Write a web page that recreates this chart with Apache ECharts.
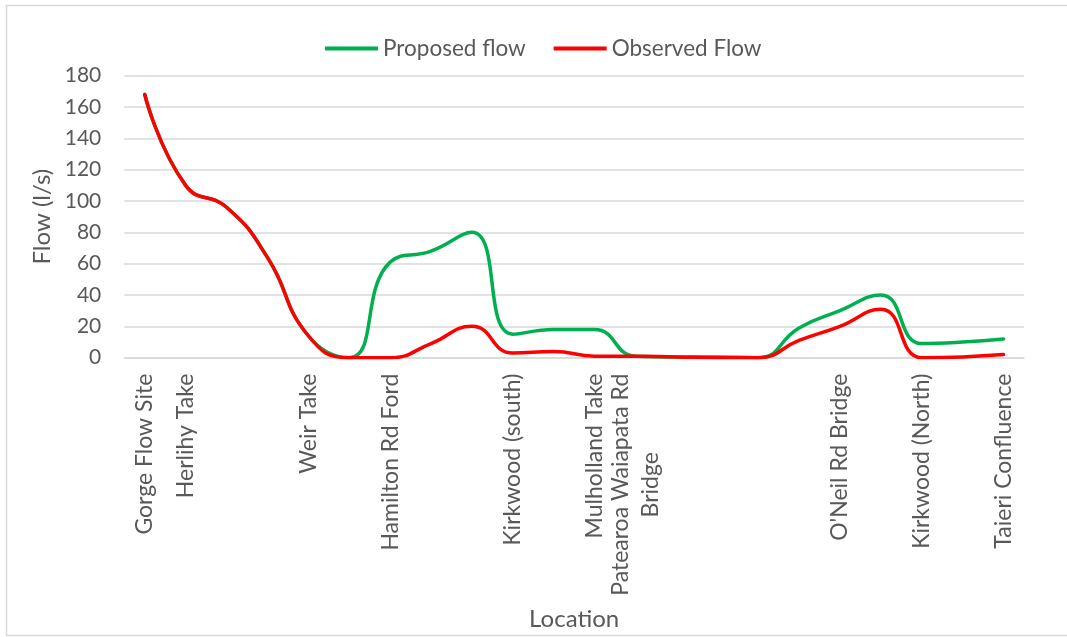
<!DOCTYPE html>
<html>
<head>
<meta charset="utf-8">
<script src="https://cdn.jsdelivr.net/npm/echarts@6/dist/echarts.min.js"></script>
<style>
  html, body { margin: 0; padding: 0; background: #fff; }
  #chart { width: 1067px; height: 637px; }
</style>
</head>
<body>
<div id="chart"></div>
<script>
// Sampling sites along the river, upstream to downstream ('' = unnamed point)
const locations = [
  'Gorge Flow Site', 'Herlihy Take', '', '', 'Weir Take', '', 'Hamilton Rd Ford',
  '', '', 'Kirkwood (south)', '', 'Mulholland Take', 'Patearoa Waiapata Rd\nBridge',
  '', '', '', '', "O'Neil Rd Bridge", '', 'Kirkwood (North)', '', 'Taieri Confluence'
];

// Flow in l/s at each site
const proposedFlow = [168, 110, 96, 64, 14, 0, 61, 68, 80, 15, 18, 18, 1, 0.5, 0.5, 0, 19, 30, 40, 9, 10, 12];
const observedFlow = [168, 110, 96, 64, 14, 0, 0, 9, 20, 3, 4, 1, 1, 0.5, 0, 0, 11, 20, 31, 0, 0.5, 2];

const yTicks = { min: 0, max: 180, interval: 20 };

const FONT = 'Lato, "Open Sans", sans-serif';
const TEXT = '#595959';
const GRID = '#d9d9d9';

const chart = echarts.init(document.getElementById('chart'), null, { renderer: 'canvas' });

chart.setOption({
  animation: false,
  backgroundColor: '#fff',
  textStyle: { fontFamily: FONT, color: TEXT },
  graphic: [{
    type: 'rect',
    shape: { x: 6.5, y: 5.5, width: 1066, height: 630 },
    style: { fill: 'none', stroke: GRID, lineWidth: 1.5 },
    silent: true
  }],
  legend: {
    top: 32,
    left: 320,
    itemWidth: 53,
    itemHeight: 4,
    itemGap: 28,
    icon: 'rect',
    textStyle: { fontFamily: FONT, fontSize: 22.5, color: TEXT },
    data: ['Proposed flow', 'Observed Flow']
  },
  grid: {
    left: 124.3, right: 43, top: 75.7, bottom: 279.3,
    containLabel: false,
    outerBoundsMode: 'none'
  },
  xAxis: {
    type: 'category',
    data: locations,
    boundaryGap: true,
    name: 'Location',
    nameLocation: 'middle',
    nameGap: 250,
    nameTextStyle: { fontFamily: FONT, fontSize: 24, color: TEXT },
    axisLine: { show: true, lineStyle: { color: GRID, width: 1.5 } },
    axisTick: { show: false },
    axisLabel: {
      interval: 0,
      rotate: 90,
      margin: 16,
      fontFamily: FONT,
      fontSize: 23,
      color: TEXT,
      lineHeight: 30,
      formatter: function (v) {
        const parts = v.split('\n');
        if (parts.length > 1) return '{a|' + parts[0] + '}\n{b|' + parts[1] + '}';
        return v;
      },
      rich: {
        a: { fontFamily: FONT, fontSize: 23, color: TEXT, lineHeight: 30 },
        b: { fontFamily: FONT, fontSize: 23, color: TEXT, lineHeight: 30, align: 'center' }
      }
    },
    splitLine: { show: false }
  },
  yAxis: {
    type: 'value',
    min: yTicks.min,
    max: yTicks.max,
    interval: yTicks.interval,
    name: 'Flow (l/s)',
    nameLocation: 'middle',
    nameGap: 70,
    nameRotate: 90,
    nameTextStyle: { fontFamily: FONT, fontSize: 24, color: TEXT },
    axisLine: { show: false },
    axisTick: { show: false },
    axisLabel: { fontFamily: FONT, fontSize: 21, color: TEXT, margin: 23 },
    splitLine: { show: true, lineStyle: { color: GRID, width: 1.5 } }
  },
  series: [
    {
      name: 'Proposed flow',
      type: 'line',
      data: proposedFlow,
      smooth: 0.5,
      symbol: 'none',
      color: '#00B050',
      lineStyle: { color: '#00B050', width: 3.5, cap: 'round' }
    },
    {
      name: 'Observed Flow',
      type: 'line',
      data: observedFlow,
      smooth: 0.5,
      symbol: 'none',
      color: '#FF0000',
      lineStyle: { color: '#FF0000', width: 3.5, cap: 'round' }
    }
  ]
});
</script>
</body>
</html>
